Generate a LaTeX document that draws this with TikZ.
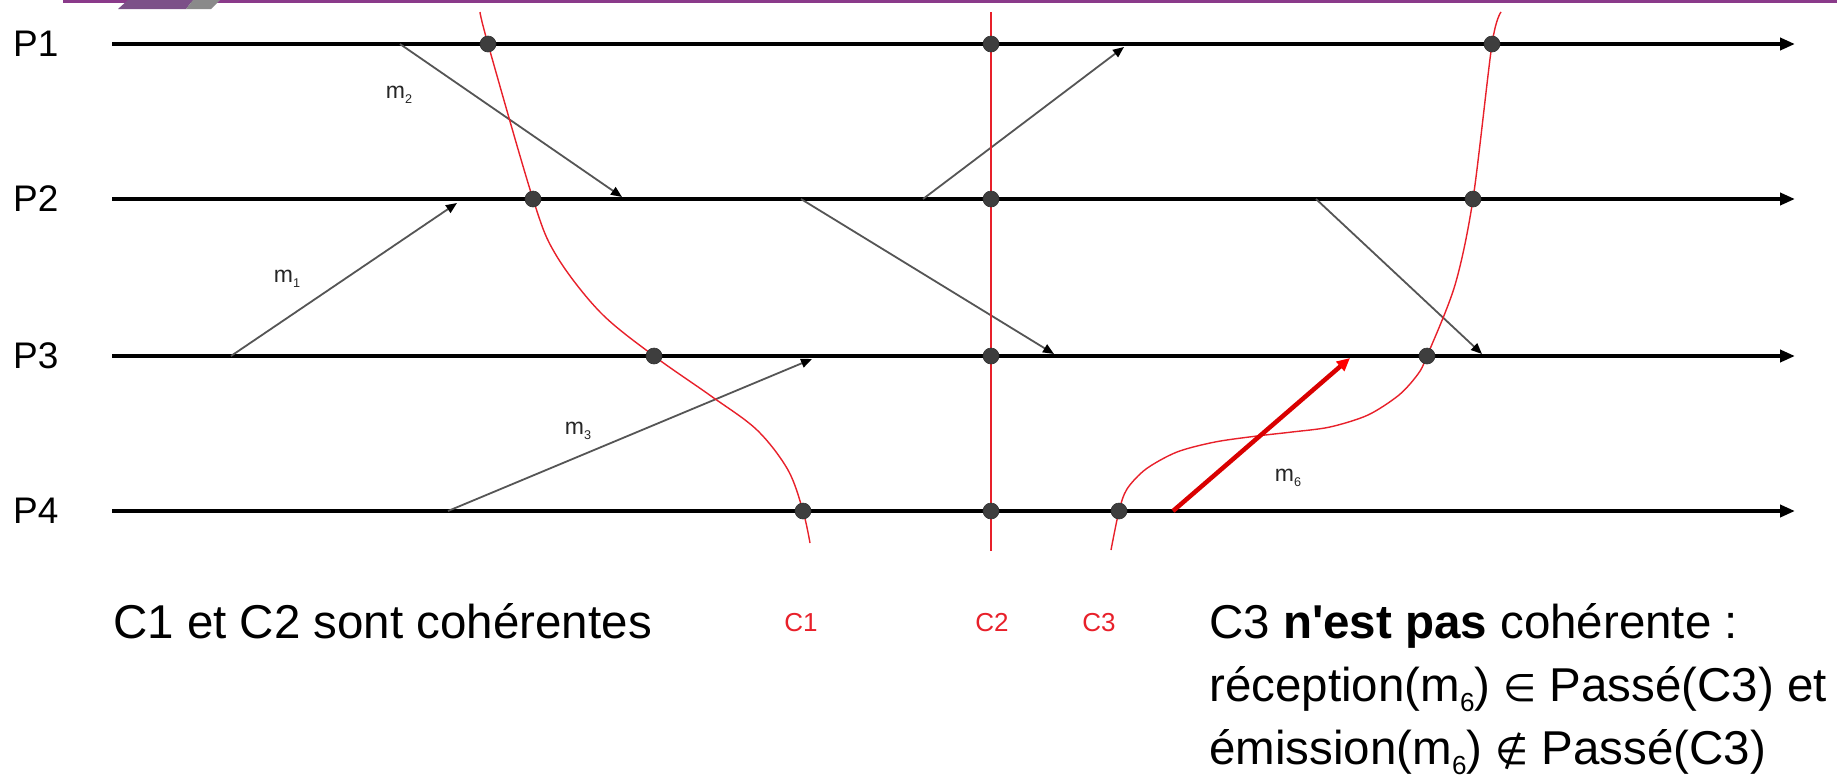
\documentclass[tikz,border=0pt]{standalone}
\usepackage{fontspec}
\setmainfont{Liberation Sans}
\newfontfamily\symfont{DejaVu Sans}
\usetikzlibrary{arrows.meta}
\definecolor{cutred}{HTML}{E8202A}
\definecolor{msggray}{HTML}{555555}
\definecolor{dotgray}{HTML}{3E3E3E}
\definecolor{topline}{HTML}{8A3A8A}
\definecolor{barpurple}{HTML}{7C5088}
\definecolor{bargray}{HTML}{8A8A8A}
\newcommand\msub[1]{\raisebox{-0.22em}{\scalebox{0.55}{#1}}}
\begin{document}
\begin{tikzpicture}[x=1pt,y=-1pt,
  proc/.style={line width=4pt, black, -{Triangle[length=15pt,width=12pt]}},
  msg/.style={line width=1.8pt, msggray, -{Triangle[length=11pt,width=9pt,color=black]}},
  bad/.style={line width=4.5pt, red!85!black, -{Triangle[length=13pt,width=12pt,color=red]}},
  cut/.style={line width=1.4pt, cutred},
  dot/.style={circle, fill=dotgray, draw=black!80, line width=0.6pt, minimum size=16pt, inner sep=0pt},
  plabel/.style={anchor=west, inner sep=0pt, font=\fontsize{37}{44}\selectfont},
  mlabel/.style={inner sep=0pt, text=black!85, font=\fontsize{23}{26}\selectfont},
  clabel/.style={anchor=base, inner sep=0pt, text=cutred, font=\fontsize{26}{30}\selectfont},
  maintext/.style={anchor=base west, inner sep=0pt, font=\fontsize{47.5}{52}\selectfont}
]
\path[use as bounding box, fill=white] (0,0) rectangle (1837,777);

% top decoration
\fill[topline] (63,0) rectangle (1837,2.5);
\fill[barpurple] (118,9) -- (128,0) -- (193,0) -- (186,9) -- cycle;
\fill[bargray] (186,9) -- (193,0) -- (220,0) -- (211,9) -- cycle;

% processes
\foreach \i/\y in {1/44,2/199,3/356,4/511}{
  \coordinate (s\i) at (112,\y);
  \coordinate (e\i) at (1795,\y);
  \node[plabel] (P\i) at (13,\y) {P\i};
}
\foreach \i in {1,2,3,4}{ \draw[proc] (s\i) -- (e\i); }

% message end points
\coordinate (m1a) at (231,356);  \coordinate (m1b) at (457,203);
\coordinate (m2a) at (400,44);   \coordinate (m2b) at (622,197);
\coordinate (m3a) at (448,511);  \coordinate (m3b) at (812,359);
\coordinate (m4a) at (923,199);  \coordinate (m4b) at (1124,47);
\coordinate (m5a) at (801,199);  \coordinate (m5b) at (1054,354);
\coordinate (m7a) at (1316,199); \coordinate (m7b) at (1482,354);
\coordinate (m6a) at (1173,511); \coordinate (m6b) at (1350,358);

\draw[msg] (m1a) -- (m1b);
\draw[msg] (m2a) -- (m2b);
\draw[msg] (m3a) -- (m3b);
\draw[msg] (m4a) -- (m4b);
\draw[msg] (m5a) -- (m5b);
\draw[msg] (m7a) -- (m7b);

% cut C1
\draw[cut] plot[smooth, tension=0.55] coordinates {(480,12) (488,44) (533,199) (556,255) (600,312) (654,356) (711,396) (757,430) (788,470) (803,511) (810,543)};
% cut C2
\coordinate (c2t) at (991,12);
\coordinate (c2b) at (991,551);
\draw[cut] (c2t) -- (c2b);
% cut C3
\draw[cut] plot[smooth, tension=0.5] coordinates {(1501,12) (1492,44) (1473,199) (1455,285) (1427,356) (1418,374) (1399,395) (1368,415) (1330,427) (1292,432) (1257,436) (1215,442) (1177,452) (1146,469) (1127,489) (1119,511) (1111,550)};

% m6
\draw[bad] (m6a) -- (m6b);

% dots
\node[dot] (d11) at (488,44) {};
\node[dot] (d12) at (533,199) {};
\node[dot] (d13) at (654,356) {};
\node[dot] (d14) at (803,511) {};
\node[dot] (d21) at (991,44) {};
\node[dot] (d22) at (991,199) {};
\node[dot] (d23) at (991,356) {};
\node[dot] (d24) at (991,511) {};
\node[dot] (d31) at (1492,44) {};
\node[dot] (d32) at (1473,199) {};
\node[dot] (d33) at (1427,356) {};
\node[dot] (d34) at (1119,511) {};

% message labels
\node[mlabel] (l1) at (287,279) {m\msub{1}};
\node[mlabel] (l2) at (399,95) {m\msub{2}};
\node[mlabel] (l3) at (578,431) {m\msub{3}};
\node[mlabel] (l6) at (1288,478) {m\msub{6}};

% cut labels
\node[clabel] (C1) at (801,631) {C1};
\node[clabel] (C2) at (992,631) {C2};
\node[clabel] (C3) at (1099,631) {C3};

% texts
\node[maintext] (t1) at (113,638) {C1 et C2 sont cohérentes};
\node[maintext] (t2) at (1209,638) {C3 \textbf{n\textquotesingle est pas} cohérente :};
\node[maintext] (t3) at (1209,701) {réception(m\msub{6}) {\symfont\scalebox{0.8}{∈}} Passé(C3) et};
\node[maintext] (t4) at (1209,764) {émission(m\msub{6}) {\symfont\scalebox{0.8}{∉}} Passé(C3)};
\end{tikzpicture}
\end{document}
